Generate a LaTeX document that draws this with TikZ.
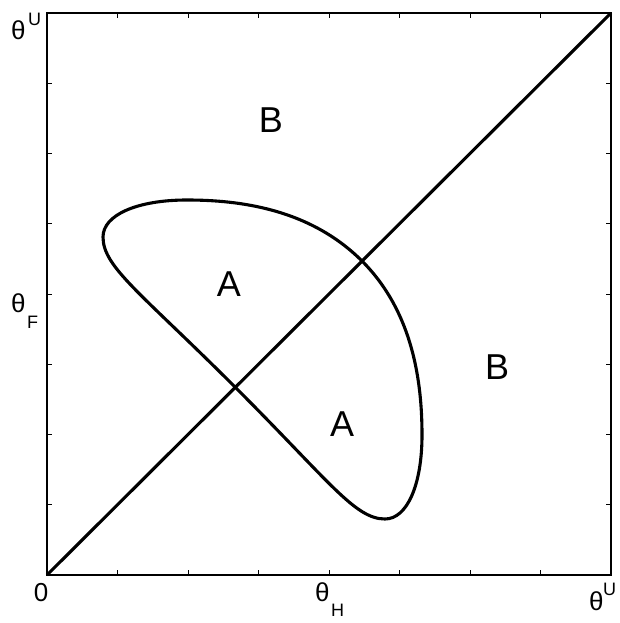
\documentclass[tikz,border=0pt]{standalone}
\usepackage{fontspec}
\setmainfont{Liberation Sans}
\begin{document}
\begin{tikzpicture}[x=1pt,y=-1pt,
  frame/.style={line width=1.9pt},
  diag/.style={line width=3.1pt},
  curve/.style={line width=3.1pt},
  tick/.style={line width=1pt},
  region/.style={inner sep=0pt,font=\fontsize{36}{40}\selectfont},
  axlab/.style={inner sep=0pt,font=\fontsize{26}{28}\selectfont},
  axsub/.style={inner sep=0pt,font=\fontsize{18}{20}\selectfont}]
\useasboundingbox (0,0) rectangle (619,623);
\coordinate (o) at (47,575);
\coordinate (tr) at (611,13);
\draw[frame] (o) rectangle (tr);
% ticks
\foreach \k in {1,...,7}{
  \draw[tick] ({47+70.5*\k},575) -- ({47+70.5*\k},570);
  \draw[tick] ({47+70.5*\k},13) -- ({47+70.5*\k},18);
  \draw[tick] (47,{575-70.25*\k}) -- (52,{575-70.25*\k});
  \draw[tick] (611,{575-70.25*\k}) -- (606,{575-70.25*\k});
}
\draw[diag] (o) -- (tr);
% closed curve, symmetric about the diagonal
\coordinate (L) at (235,387);
\coordinate (P) at (103,237);
\coordinate (T) at (187,200);
\coordinate (U) at (362,261);
\coordinate (T2) at (422,435);
\coordinate (P2) at (385,519);
\draw[curve,line join=round] (L)
  .. controls (140,292) and (103,267) .. (P)
  .. controls (103,215) and (137,200) .. (T)
  .. controls (240,200) and (310,209) .. (U)
  .. controls (413,312) and (422,382) .. (T2)
  .. controls (422,485) and (407,519) .. (P2)
  .. controls (355,519) and (330,482) .. (L) -- cycle;
% region labels
\node[region] (a1) at (229,284) {A};
\node[region] (a2) at (342,424) {A};
\node[region] (b1) at (271,120) {B};
\node[region] (b2) at (497,367) {B};
% axis labels
\node[axlab,anchor=base west] (thU1) at (11,40) {θ};
\node[axsub,anchor=base west] (U1) at (28,26) {U};
\node[axlab,anchor=base west] (thF) at (11,312) {θ};
\node[axsub,anchor=base west] (F) at (27,328) {F};
\node[axlab,anchor=base] (zero) at (41,601) {0};
\node[axlab,anchor=base west] (thH) at (315,601) {θ};
\node[axsub,anchor=base west] (H) at (331,616) {H};
\node[axlab,anchor=base west] (thU2) at (589,610) {θ};
\node[axsub,anchor=base west] (U2) at (603,595) {U};
\end{tikzpicture}
\end{document}
